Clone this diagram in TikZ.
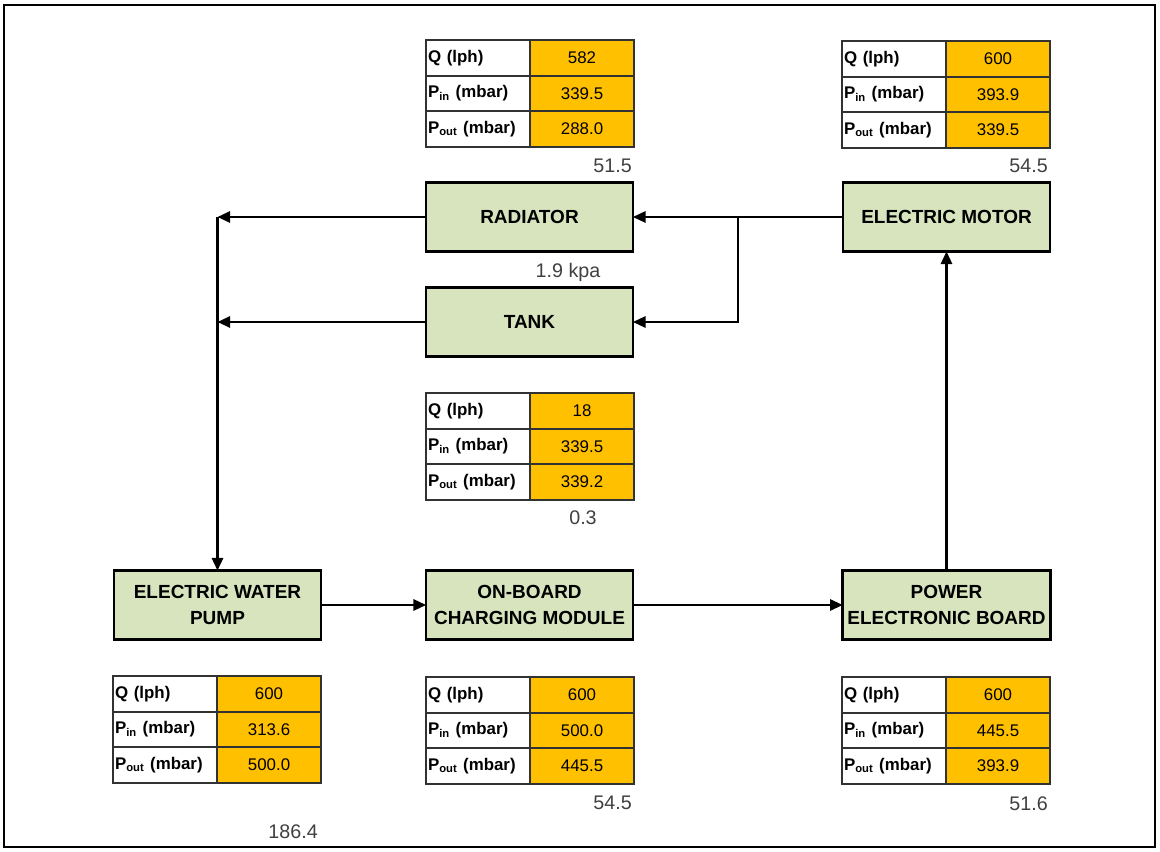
\documentclass[tikz,border=0pt]{standalone}
\usepackage{fontspec}
\setmainfont{Liberation Sans}
\usepackage{tikz}
\usetikzlibrary{positioning}
\usetikzlibrary{arrows.meta}

\definecolor{boxgreen}{RGB}{215,228,189}
\definecolor{cellorange}{RGB}{255,192,0}
\definecolor{cellline}{RGB}{50,50,50}
\definecolor{notegray}{RGB}{64,64,64}

% one table of flow data: name, top left corner, Q, P_in, P_out
\newcommand{\flowtable}[5]{%
\node[lblcell, anchor=north west] (#1-q) at (#2) {Q (lph)};
\node[valcell, right=0pt of #1-q] (#1-qv) {#3};
\node[lblcell, below=0pt of #1-q] (#1-pin) {P\textsubscript{in} (mbar)};
\node[valcell, right=0pt of #1-pin] (#1-pinv) {#4};
\node[lblcell, below=0pt of #1-pin] (#1-pout) {P\textsubscript{out} (mbar)};
\node[valcell, right=0pt of #1-pout] (#1-poutv) {#5};
}

\begin{document}
\begin{tikzpicture}[x=0.025cm, y=-0.025cm,
  unit/.style={draw, line width=2pt, fill=boxgreen, minimum width=5.17cm, minimum height=1.72cm,
    align=center, font=\bfseries\fontsize{13.5}{18.5}\selectfont, outer sep=0pt},
  lblcell/.style={draw=cellline, line width=1.3pt, fill=white, outer sep=0pt, inner xsep=1.5pt, inner ysep=0pt,
    text width=2.6cm-3pt, minimum height=0.89cm, align=left, font=\bfseries\fontsize{12}{14}\selectfont},
  valcell/.style={draw=cellline, line width=1.3pt, fill=cellorange, outer sep=0pt, inner xsep=1.5pt, inner ysep=0pt,
    text width=2.6cm-3pt, minimum height=0.89cm, align=center, font=\fontsize{12}{14}\selectfont},
  note/.style={text=notegray, inner sep=0pt, font=\fontsize{14}{16}\selectfont},
  flow/.style={-{Triangle[length=9pt,width=8pt]}, line width=1.6pt}]

\useasboundingbox (0,0) rectangle (1160,852);
\draw[line width=2pt] (4,5) rectangle (1155,847);

% units
\node[unit] (rad) at (529.5,217) {RADIATOR};
\node[unit] (tank) at (529.5,322) {TANK};
\node[unit] (motor) at (946.5,217) {ELECTRIC MOTOR};
\node[unit] (pump) at (217.5,605) {ELECTRIC WATER\\PUMP};
\node[unit] (obc) at (529.5,605) {ON-BOARD\\CHARGING MODULE};
\node[unit] (peb) at (946.5,605) {POWER\\ELECTRONIC BOARD};

% data tables
\flowtable{radT}{426,40}{582}{339.5}{288.0}
\flowtable{motorT}{842,41}{600}{393.9}{339.5}
\flowtable{tankT}{426,393}{18}{339.5}{339.2}
\flowtable{pumpT}{113,676}{600}{313.6}{500.0}
\flowtable{obcT}{426,677}{600}{500.0}{445.5}
\flowtable{pebT}{842,677}{600}{445.5}{393.9}

% pressure drops
\node[note, anchor=east] (radDrop) at (632,166) {51.5};
\node[note, anchor=east] (motorDrop) at (1048,166) {54.5};
\node[note] (radKpa) at (568,272) {1.9 kpa};
\node[note] (tankDrop) at (583,518) {0.3};
\node[note, anchor=east] (pumpDrop) at (318,832) {186.4};
\node[note, anchor=east] (obcDrop) at (632,803) {54.5};
\node[note, anchor=east] (pebDrop) at (1048,804) {51.6};

% coolant loop
\coordinate (branch) at (738,217);
\coordinate (corner) at (rad.west -| pump.north);
\draw[line width=1.6pt] (motor.west) -- (branch);
\draw[flow] (branch) -- (rad.east);
\draw[flow] (branch) |- (tank.east);
\draw[flow] (rad.west) -- (corner);
\draw[flow] (corner) -- (pump.north);
\draw[flow] (tank.west) -- (tank.west -| pump.north);
\draw[flow] (pump.east) -- (obc.west);
\draw[flow] (obc.east) -- (peb.west);
\draw[flow] (peb.north) -- (motor.south);

\end{tikzpicture}
\end{document}
